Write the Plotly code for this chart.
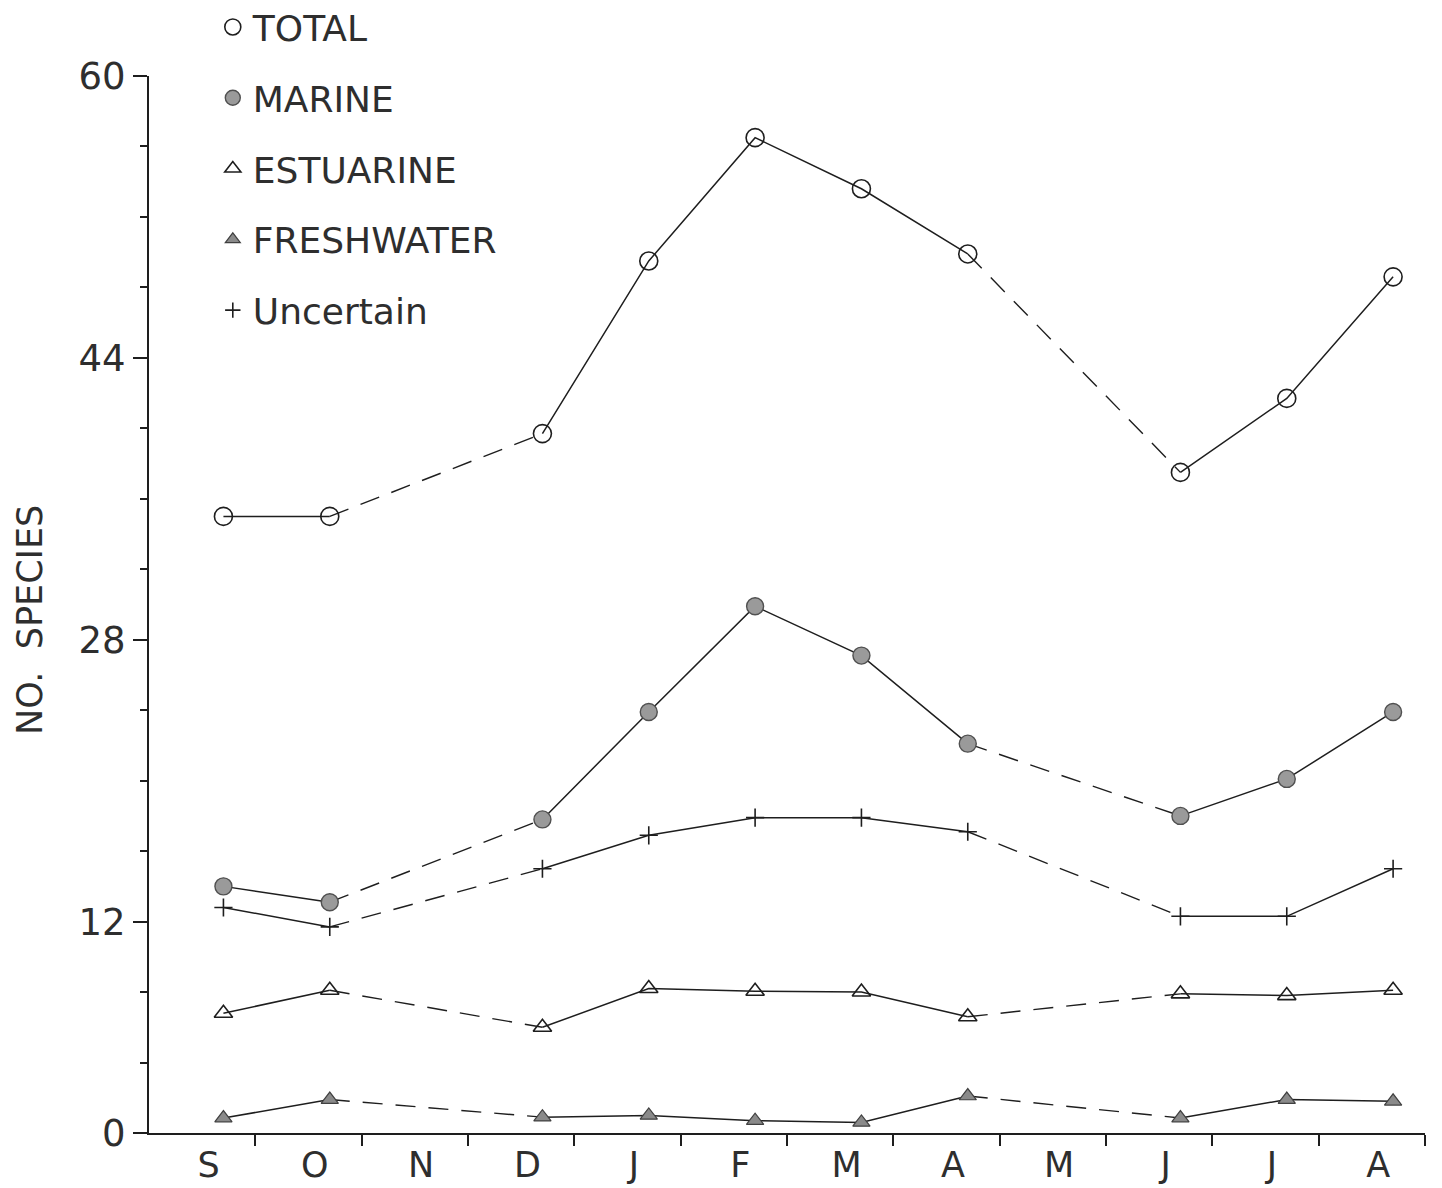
import plotly.graph_objects as go

# Sampling months (Sept -> Aug); N and the second M were not sampled
months = ["S", "O", "N", "D", "J", "F", "M", "A", "M", "J", "J", "A"]

total      = [35.0, 35.0, None, 39.7, 49.5, 56.5, 53.6, 49.9, None, 37.5, 41.7, 48.6]
marine     = [14.0, 13.1, None, 17.8, 23.9, 29.9, 27.1, 22.1, None, 18.0, 20.1, 23.9]
estuarine  = [6.8, 8.1, None, 6.0, 8.2, 8.05, 8.0, 6.6, None, 7.9, 7.8, 8.1]
freshwater = [0.85, 1.9, None, 0.9, 1.0, 0.7, 0.6, 2.1, None, 0.85, 1.9, 1.8]
uncertain  = [12.8, 11.7, None, 15.0, 16.9, 17.9, 17.9, 17.1, None, 12.3, 12.3, 15.0]

y_ticks = [0, 12, 28, 44, 60]
y_minor = [4, 8, 16, 20, 24, 32, 36, 40, 48, 52, 56]

LINE = "#1e1e1e"
TEXT = "#2e2e2e"
FONT = "DejaVu Sans"

# month i occupies the interval [i, i+1] on the x axis
POINT_OFFSET = 0.7
LABEL_OFFSET = 0.56

series = [
    ("TOTAL", total, dict(symbol="circle-open", size=18, color=LINE, line=dict(width=1.6, color=LINE))),
    ("MARINE", marine, dict(symbol="circle", size=17, color="#9a9a9a", line=dict(width=1.4, color="#505050"))),
    ("ESTUARINE", estuarine, dict(symbol="triangle-up-open", size=16, color=LINE, line=dict(width=1.6, color=LINE))),
    ("FRESHWATER", freshwater, dict(symbol="triangle-up", size=15, color="#8a8a8a", line=dict(width=1.2, color="#404040"))),
    ("Uncertain", uncertain, dict(symbol="cross-thin", size=13, color=LINE, line=dict(width=1.6, color=LINE))),
]

fig = go.Figure()

for name, values, marker in series:
    xs = [i + POINT_OFFSET for i in range(len(months))]
    # solid runs between consecutive sampled months
    fig.add_trace(go.Scatter(
        x=xs, y=values, mode="lines", connectgaps=False,
        line=dict(color=LINE, width=1.5), showlegend=False, hoverinfo="skip"))
    # dashed bridges across unsampled months
    sampled = [i for i, v in enumerate(values) if v is not None]
    dx, dy = [], []
    for a, b in zip(sampled[:-1], sampled[1:]):
        if b - a > 1:
            dx += [xs[a], xs[b], None]
            dy += [values[a], values[b], None]
    fig.add_trace(go.Scatter(
        x=dx, y=dy, mode="lines",
        line=dict(color=LINE, width=1.4, dash="20px,13px"),
        showlegend=False, hoverinfo="skip"))
    fig.add_trace(go.Scatter(
        x=[xs[i] for i in sampled], y=[values[i] for i in sampled],
        mode="markers", marker=marker, name=name, showlegend=False))

# legend entries (marker only)
for k, (name, values, marker) in enumerate(series):
    m = dict(marker)
    m["size"] = marker["size"] - 2
    fig.add_trace(go.Scatter(
        x=[None], y=[None], mode="markers", marker=m, name=name,
        legendgroup=f"g{k}", showlegend=True))

fig.update_layout(
    width=1442, height=1188,
    margin=dict(l=149, r=17, t=76, b=55, autoexpand=False),
    paper_bgcolor="white", plot_bgcolor="white",
    font=dict(family=FONT, color=TEXT),
    showlegend=True,
    legend=dict(
        x=0.05, y=1.0747, xanchor="left", yanchor="top",
        font=dict(family=FONT, size=36, color=TEXT),
        tracegroupgap=21, itemwidth=30, bgcolor="rgba(0,0,0,0)",
    ),
    xaxis=dict(
        range=[0, 12], showgrid=False, zeroline=False,
        showline=True, linecolor=LINE, linewidth=2,
        tickmode="array",
        tickvals=[i + LABEL_OFFSET for i in range(len(months))],
        ticktext=months, ticks="", ticklen=0,
        tickfont=dict(family=FONT, size=35, color=TEXT),
        minor=dict(tickmode="array", tickvals=list(range(1, 13)),
                   ticks="outside", ticklen=11, tickwidth=1.5, tickcolor=LINE),
    ),
    yaxis=dict(
        range=[0, 60], showgrid=False, zeroline=False,
        showline=True, linecolor=LINE, linewidth=2,
        tickmode="array", tickvals=y_ticks,
        ticks="outside", ticklen=14, tickwidth=1.5, tickcolor=LINE,
        tickfont=dict(family=FONT, size=37, color=TEXT),
        minor=dict(tickmode="array", tickvals=y_minor,
                   ticks="outside", ticklen=7, tickwidth=1.5, tickcolor=LINE),
    ),
)

fig.add_annotation(
    text="NO.  SPECIES", xref="paper", yref="paper",
    x=-0.11, y=0.485, showarrow=False, textangle=-90,
    font=dict(family=FONT, size=35, color=TEXT),
)

fig.write_html("out.html")
